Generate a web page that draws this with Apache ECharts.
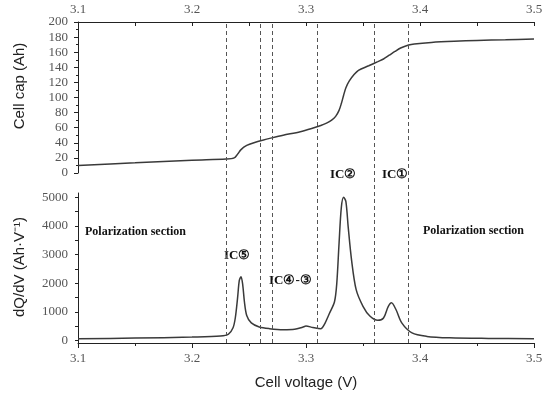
<!DOCTYPE html>
<html>
<head>
<meta charset="utf-8">
<script src="https://cdn.jsdelivr.net/npm/echarts@6/dist/echarts.min.js"></script>
<style>html,body{margin:0;padding:0;background:#fff}#c{width:550px;height:394px}</style>
</head>
<body>
<div id="c"></div>
<script>
// Cell capacity curve (top panel)
const capVoltage = [3.10,3.15,3.20,3.23,3.237,3.240,3.243,3.248,3.255,3.262,3.270,3.28,3.295,3.305,3.313,3.318,3.3225,3.326,3.329,3.331,3.333,3.335,3.338,3.342,3.346,3.355,3.363,3.368,3.373,3.378,3.383,3.39,3.395,3.41,3.43,3.45,3.475,3.50];
const capAh =      [10,  13.5,17,  18.5,20,   25,   31,   36.5, 40.5, 43.5, 46.5, 50,  54.7, 59,   63,   66,   70,    75,   83,   92,   103,  113,  122,  130,  136,  142,  147.5,151,  156,  161,  165.5,169.5,171, 173, 174.5,175.5,176.5,177.5];
// Incremental capacity curve (bottom panel)
const icVoltage = [3.10,3.15,3.20,3.225,3.232,3.236,3.238,3.240,3.2415,3.243,3.2445,3.246,3.248,3.252,3.259,3.268,3.28,3.29,3.297,3.300,3.306,3.313,3.316,3.3205,3.325,3.327,3.329,3.331,3.333,3.335,3.337,3.340,3.344,3.350,3.356,3.363,3.368,3.372,3.375,3.379,3.384,3.393,3.406,3.426,3.46,3.50];
const icValues =  [70,  90,  125, 160,  230,  450,  800,  1500, 2100,  2230, 1950,  1350, 880,  620,  480,  420,  385, 400, 470,  510,  460,  420,  560,  950,   1360, 2000, 3400, 4650, 5000, 4850, 3970, 2800, 1780, 1200, 860,  710,  790,  1180, 1320, 1080, 620,  270,  150,  100,  80,  70];
// Section boundaries (dashed lines)
const boundaryVoltage = [3.228, 3.259, 3.268, 3.313, 3.363, 3.393];
// Tick values
const icLabelTicks = [0, 1000, 2000, 3000, 4000, 5000];
const icTickMarks = [0, 500, 1000, 1500, 2000, 2500, 3000, 3500, 4000, 4500, 5000];

const chart = echarts.init(document.getElementById('c'), null, {renderer: 'canvas'});
const axisColor = '#222';
const labelFont = {fontFamily: '"Liberation Serif", serif', fontSize: 13, color: '#555'};
const voltFmt = v => v.toFixed(1);
const plainFmt = v => String(Math.round(v));

chart.setOption({
  backgroundColor: '#fff',
  animation: false,
  grid: [
    {left: 78, right: 16, top: 22, height: 151},
    {left: 78, right: 16, top: 193, height: 150},
    {left: 78, right: 16, top: 22, bottom: 51}
  ],
  xAxis: [
    {gridIndex: 0, type: 'value', position: 'top', min: 3.1, max: 3.5, interval: 0.1,
     axisLine: {show: true, onZero: false, lineStyle: {color: axisColor, width: 1}},
     axisTick: {show: true, inside: true, length: 4, lineStyle: {color: axisColor}},
     minorTick: {show: true, splitNumber: 2, length: 4, lineStyle: {color: axisColor}},
     axisLabel: Object.assign({margin: 6, formatter: voltFmt}, labelFont),
     splitLine: {show: false}},
    {gridIndex: 1, type: 'value', position: 'bottom', min: 3.1, max: 3.5, interval: 0.1,
     axisLine: {show: true, onZero: false, lineStyle: {color: axisColor, width: 1}},
     axisTick: {show: true, length: 5, lineStyle: {color: axisColor}},
     minorTick: {show: true, splitNumber: 2, length: 3, lineStyle: {color: axisColor}},
     axisLabel: Object.assign({margin: 9, formatter: voltFmt}, labelFont),
     splitLine: {show: false}},
    {gridIndex: 2, type: 'value', show: false, min: 3.1, max: 3.5}
  ],
  yAxis: [
    {gridIndex: 0, type: 'value', min: 0, max: 200, interval: 20,
     axisLine: {show: true, lineStyle: {color: axisColor, width: 1}},
     axisTick: {show: true, length: 4, lineStyle: {color: axisColor}},
     minorTick: {show: true, splitNumber: 2, length: 2, lineStyle: {color: axisColor}},
     axisLabel: Object.assign({margin: 10, formatter: plainFmt}, labelFont),
     splitLine: {show: false}},
    {gridIndex: 1, type: 'value', min: -80, max: 5150,
     axisLine: {show: true, lineStyle: {color: axisColor, width: 1}},
     axisTick: {show: true, length: 3, customValues: icTickMarks, lineStyle: {color: axisColor}},
     axisLabel: Object.assign({margin: 10, customValues: icLabelTicks, formatter: plainFmt}, labelFont),
     splitLine: {show: false}},
    {gridIndex: 2, type: 'value', show: false, min: 0, max: 1}
  ],
  series: [
    {type: 'line', xAxisIndex: 0, yAxisIndex: 0, showSymbol: false, smooth: 0.3,
     lineStyle: {color: '#3a3a3a', width: 1.5},
     data: capVoltage.map((v, i) => [v, capAh[i]])},
    {type: 'line', xAxisIndex: 1, yAxisIndex: 1, showSymbol: false, smooth: 0.3,
     lineStyle: {color: '#3a3a3a', width: 1.5},
     data: icVoltage.map((v, i) => [v, icValues[i]])},
    {type: 'line', xAxisIndex: 2, yAxisIndex: 2, showSymbol: false, silent: true,
     lineStyle: {opacity: 0}, data: [[3.1, 0], [3.5, 1]],
     markLine: {silent: true, symbol: ['none', 'none'], label: {show: false},
       lineStyle: {color: '#555', width: 1, type: [4, 3]},
       data: boundaryVoltage.map(v => ({xAxis: v}))}}
  ],
  graphic: [
    {type: 'text', x: 20, y: 86, rotation: Math.PI / 2,
     style: {text: 'Cell cap (Ah)', font: '15px "Liberation Sans", Arial, sans-serif', fill: '#222', textAlign: 'center', textVerticalAlign: 'middle'}},
    {type: 'text', x: 20, y: 267, rotation: Math.PI / 2,
     style: {text: 'dQ/dV (Ah·V⁻¹)', font: '15px "Liberation Sans", Arial, sans-serif', fill: '#222', textAlign: 'center', textVerticalAlign: 'middle'}},
    {type: 'text', x: 306, y: 383,
     style: {text: 'Cell voltage (V)', font: '15px "Liberation Sans", Arial, sans-serif', fill: '#222', textAlign: 'center', textVerticalAlign: 'middle'}},
    {type: 'text', x: 85, y: 232,
     style: {text: 'Polarization section', font: 'bold 12px "Liberation Serif", serif', fill: '#111', textAlign: 'left', textVerticalAlign: 'middle'}},
    {type: 'text', x: 423, y: 231,
     style: {text: 'Polarization section', font: 'bold 12px "Liberation Serif", serif', fill: '#111', textAlign: 'left', textVerticalAlign: 'middle'}},
    {type: 'text', x: 224, y: 256,
     style: {text: 'IC⑤', font: 'bold 13px "Liberation Serif", serif', fill: '#111', textAlign: 'left', textVerticalAlign: 'middle'}},
    {type: 'text', x: 269, y: 281,
     style: {text: 'IC④-③', font: 'bold 13px "Liberation Serif", serif', fill: '#111', textAlign: 'left', textVerticalAlign: 'middle'}},
    {type: 'text', x: 330, y: 175,
     style: {text: 'IC②', font: 'bold 13px "Liberation Serif", serif', fill: '#111', textAlign: 'left', textVerticalAlign: 'middle'}},
    {type: 'text', x: 382, y: 175,
     style: {text: 'IC①', font: 'bold 13px "Liberation Serif", serif', fill: '#111', textAlign: 'left', textVerticalAlign: 'middle'}}
  ]
});
</script>
</body>
</html>
